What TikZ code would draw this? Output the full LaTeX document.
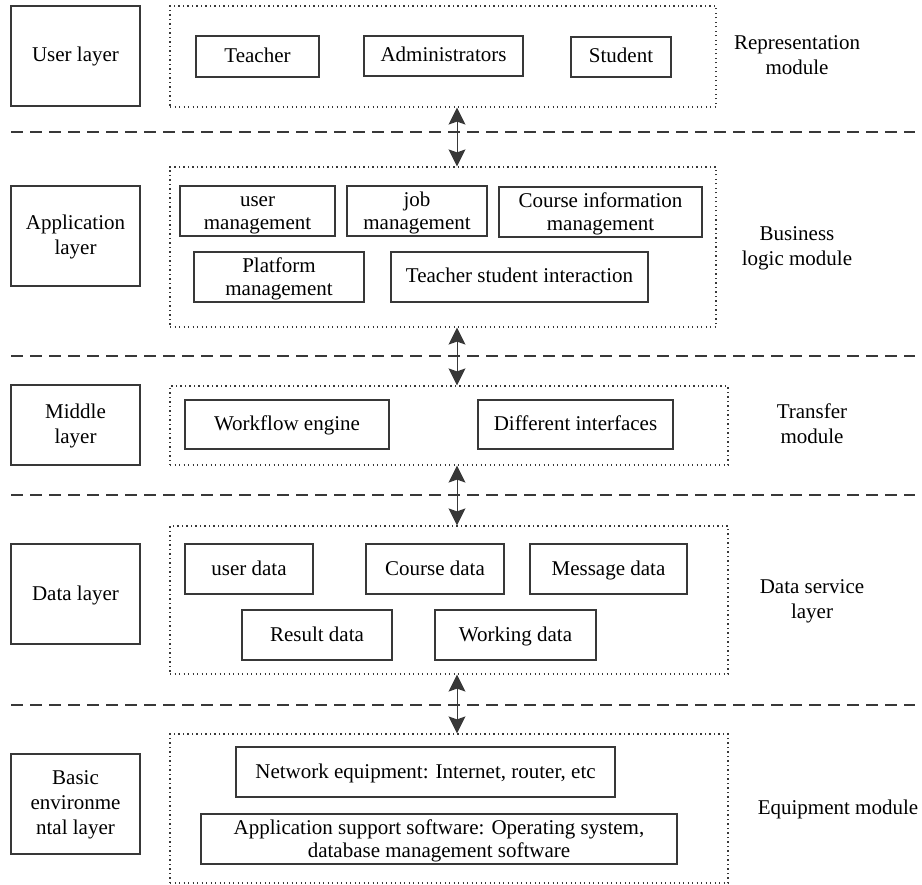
\documentclass[tikz,border=0pt]{standalone}
\usepackage{fontspec}
\setmainfont{Liberation Serif}
\usetikzlibrary{arrows.meta}
\def \linecolor {black!78}
\def \arrowx {457}
\tikzset{
  layerbox/.style={draw=\linecolor, line width=1.2pt, inner sep=0pt, align=center,
    minimum width=129pt, minimum height=100pt, font=\fontsize{21}{25}\selectfont},
  modulebox/.style={draw=\linecolor, line width=1.2pt, dash pattern=on 1.3pt off 3.2pt,
    inner sep=0pt},
  itembox/.style={draw=\linecolor, line width=1.2pt, inner sep=0pt, align=center,
    minimum height=50pt, font=\fontsize{21}{23}\selectfont},
  oneline/.style={text height=16pt, text depth=4pt},
  twoline/.style={text height=41pt, text depth=4pt},
  threeline/.style={text height=65pt, text depth=4pt},
  modulelabel/.style={align=center, inner sep=0pt, font=\fontsize{21}{25}\selectfont},
  separator/.style={draw=\linecolor, line width=1.2pt, dash pattern=on 12pt off 7pt},
  biarrow/.style={{Stealth[length=17pt,width=17pt,inset=3pt]}-{Stealth[length=17pt,width=17pt,inset=3pt]},
    line width=1pt, draw=\linecolor}
}
\begin{document}
\begin{tikzpicture}[x=1pt, y=-1pt]
\useasboundingbox (0,0) rectangle (922,885);
% Left column: the layers
\node[layerbox, oneline] (userlayer) at (75.5,56) {User layer};
\node[layerbox, twoline] (applayer) at (75.5,236) {Application\\layer};
\node[layerbox, twoline, minimum height=80pt] (midlayer) at (75.5,425) {Middle\\layer};
\node[layerbox, oneline] (datalayer) at (75.5,594) {Data layer};
\node[layerbox, threeline] (basiclayer) at (75.5,804) {Basic\\environme\\ntal layer};
% Dotted module frames
\node[modulebox, minimum width=546pt, minimum height=101pt] (repmod) at (443,56.5) {};
\node[modulebox, minimum width=546pt, minimum height=160pt] (busmod) at (443,247) {};
\node[modulebox, minimum width=558pt, minimum height=79pt] (tramod) at (449,425.5) {};
\node[modulebox, minimum width=558pt, minimum height=148pt] (dsvmod) at (449,600) {};
\node[modulebox, minimum width=558pt, minimum height=149pt] (equmod) at (449,808.5) {};
% Right column: the module names
\node[modulelabel, twoline] (replabel) at (797,56.5) {Representation\\module};
\node[modulelabel, twoline] (buslabel) at (797,247) {Business\\logic module};
\node[modulelabel, twoline] (tralabel) at (812,425.5) {Transfer\\module};
\node[modulelabel, twoline] (dsvlabel) at (812,600) {Data service\\layer};
\node[modulelabel, oneline] (equlabel) at (838,808.5) {Equipment module};
% Representation module
\node[itembox, oneline, minimum width=123pt, minimum height=41pt] (teacher) at (257.5,56.5) {Teacher};
\node[itembox, oneline, minimum width=159pt, minimum height=40pt] (admins) at (443.5,56) {Administrators};
\node[itembox, oneline, minimum width=100pt, minimum height=40pt] (student) at (621,57) {Student};
% Business logic module
\node[itembox, twoline, minimum width=155pt] (usermgmt) at (257.5,211) {user\\management};
\node[itembox, twoline, minimum width=140pt] (jobmgmt) at (417,211) {job\\management};
\node[itembox, twoline, minimum width=203pt] (coursemgmt) at (600.5,212) {Course information\\management};
\node[itembox, twoline, minimum width=170pt] (platmgmt) at (279,277) {Platform\\management};
\node[itembox, oneline, minimum width=257pt] (interaction) at (519.5,277) {Teacher student interaction};
% Transfer module
\node[itembox, oneline, minimum width=204pt, minimum height=49pt] (workflow) at (287,424.5) {Workflow engine};
\node[itembox, oneline, minimum width=195pt, minimum height=49pt] (interfaces) at (575.5,424.5) {Different interfaces};
% Data service layer
\node[itembox, oneline, minimum width=128pt] (userdata) at (249,569) {user data};
\node[itembox, oneline, minimum width=138pt] (coursedata) at (435,569) {Course data};
\node[itembox, oneline, minimum width=157pt] (msgdata) at (608.5,569) {Message data};
\node[itembox, oneline, minimum width=150pt] (resultdata) at (317,635) {Result data};
\node[itembox, oneline, minimum width=161pt] (workdata) at (515.5,635) {Working data};
% Equipment module
\node[itembox, oneline, minimum width=379pt] (network) at (425.5,772) {Network equipment: Internet, router, etc};
\node[itembox, twoline, minimum width=476pt] (appsoft) at (439,839) {Application support software: Operating system,\\database management software};
% Dashed separators
\foreach \i/\y in {1/132,2/356,3/495,4/705}
{
\coordinate (sepL\i) at (11,\y);
\coordinate (sepR\i) at (915,\y);
\draw[separator] (sepL\i) -- (sepR\i);
}
% Arrows between the modules
\coordinate (ax) at (\arrowx,0);
\draw[biarrow] (repmod.south -| ax) -- (busmod.north -| ax);
\draw[biarrow] (busmod.south -| ax) -- (tramod.north -| ax);
\draw[biarrow] (tramod.south -| ax) -- (dsvmod.north -| ax);
\draw[biarrow] (dsvmod.south -| ax) -- (equmod.north -| ax);
\end{tikzpicture}
\end{document}
